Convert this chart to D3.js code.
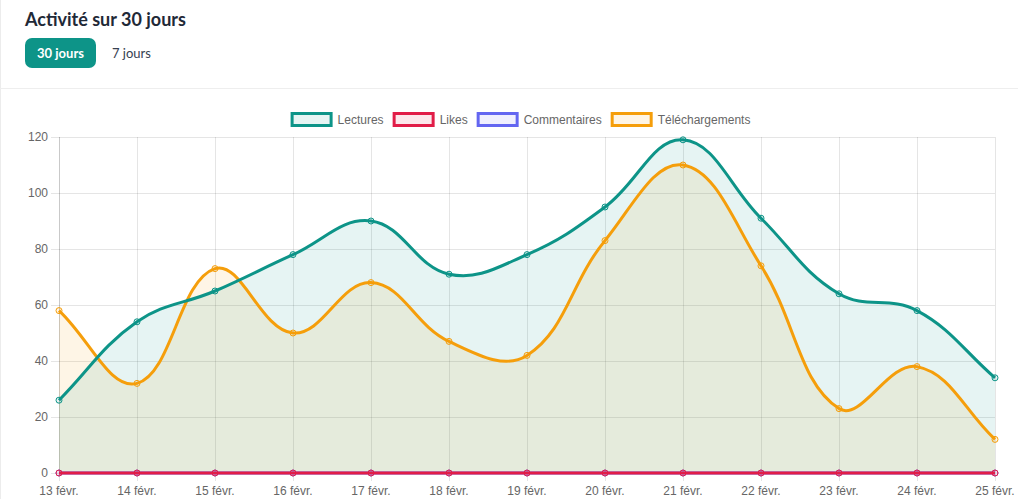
<!DOCTYPE html>
<html><head><meta charset="utf-8">
<script src="https://cdn.jsdelivr.net/npm/d3@7"></script>
<style>
html,body{margin:0;padding:0;background:#fff;}
svg{display:block;}
</style></head>
<body>
<svg id="chart" width="1018" height="499"></svg>
<script>
const categories = ["13 févr.","14 févr.","15 févr.","16 févr.","17 févr.","18 févr.","19 févr.","20 févr.","21 févr.","22 févr.","23 févr.","24 févr.","25 févr."];
const lectures = [26,54,65,78,90,71,78,95,119,91,64,58,34];
const likes = [0,0,0,0,0,0,0,0,0,0,0,0,0];
const commentaires = [0,0,0,0,0,0,0,0,0,0,0,0,0];
const telechargements = [58,32,73,50,68,47,42,83,110,74,23,38,12];
const yTicks = [0,20,40,60,80,100,120];
const seriesNames = ["Lectures","Likes","Commentaires","Téléchargements"];
const title = "Activité sur 30 jours";
const tabs = ["30 jours","7 jours"];

const colors = ["#0d9488","#e11d48","#6366f1","#f59e0b"];
const fills = ["rgba(13,148,136,0.1)","rgba(225,29,72,0.1)","rgba(99,102,241,0.1)","rgba(245,158,11,0.1)"];
const seriesData = [lectures, likes, commentaires, telechargements];

const svg = d3.select("#chart");
const W = 1018, H = 499;
const pLeft = 59, pRight = 995, pTop = 137, pBottom = 473;

// card decoration
svg.append("rect").attr("x",0.5).attr("y",-2).attr("width",W+2).attr("height",H+4)
  .attr("fill","#fff").attr("stroke","#ececec");
svg.append("line").attr("x1",0).attr("x2",W).attr("y1",88.5).attr("y2",88.5).attr("stroke","#eeeeee");

// header
svg.append("text").attr("x",25).attr("y",26).text(title)
  .attr("font-family","Lato, 'Open Sans', sans-serif").attr("font-weight",700)
  .attr("font-size",18).attr("fill","#1f2937");
svg.append("rect").attr("x",25).attr("y",38).attr("width",71).attr("height",30).attr("rx",7)
  .attr("fill","#0d9488");
svg.append("text").attr("x",60.5).attr("y",57.5).attr("text-anchor","middle").text(tabs[0])
  .attr("font-family","Lato, 'Open Sans', sans-serif").attr("font-weight",700)
  .attr("font-size",13).attr("fill","#fff");
svg.append("text").attr("x",112).attr("y",57.5).text(tabs[1])
  .attr("font-family","Lato, 'Open Sans', sans-serif").attr("font-weight",400)
  .attr("font-size",13).attr("fill","#374151");

const x = d3.scalePoint().domain(categories).range([pLeft, pRight]);
const y = d3.scaleLinear().domain([0,120]).range([pBottom, pTop]);

const font = "'Liberation Sans', Arial, Helvetica, sans-serif";
const grid = "rgba(0,0,0,0.1)";

// grid
const g = svg.append("g");
yTicks.forEach(t => {
  g.append("line").attr("x1",pLeft-8).attr("x2",pRight).attr("y1",y(t)+0.5).attr("y2",y(t)+0.5)
    .attr("stroke",grid);
  g.append("text").attr("x",pLeft-11).attr("y",y(t)+4).attr("text-anchor","end").text(t)
    .attr("font-family",font).attr("font-size",12).attr("fill","#666");
});
categories.forEach(c => {
  g.append("line").attr("x1",x(c)+0.5).attr("x2",x(c)+0.5).attr("y1",pTop).attr("y2",pBottom+8)
    .attr("stroke",grid);
  g.append("text").attr("x",x(c)).attr("y",pBottom+22).attr("text-anchor","middle").text(c)
    .attr("font-family",font).attr("font-size",12).attr("fill","#666");
});
g.append("line").attr("x1",pLeft+0.5).attr("x2",pLeft+0.5).attr("y1",pTop).attr("y2",pBottom)
  .attr("stroke","rgba(0,0,0,0.12)");

// Chart.js-like spline (tension 0.4) with cap to chart area
function splinePts(vals){
  const pts = vals.map((v,i)=>({x:x(categories[i]), y:y(v)}));
  const t = 0.4;
  pts.forEach((p,i)=>{
    const prev = pts[i-1] || p, next = pts[i+1] || p;
    const d01 = Math.hypot(p.x-prev.x, p.y-prev.y);
    const d12 = Math.hypot(next.x-p.x, next.y-p.y);
    let s01 = d01/(d01+d12), s12 = d12/(d01+d12);
    if (isNaN(s01)) s01 = 0; if (isNaN(s12)) s12 = 0;
    const fa = t*s01, fb = t*s12;
    p.cp1x = p.x - fa*(next.x-prev.x); p.cp1y = p.y - fa*(next.y-prev.y);
    p.cp2x = p.x + fb*(next.x-prev.x); p.cp2y = p.y + fb*(next.y-prev.y);
    const cx = v => Math.max(pLeft, Math.min(pRight, v));
    const cy = v => Math.max(pTop, Math.min(pBottom, v));
    p.cp1x = cx(p.cp1x); p.cp2x = cx(p.cp2x); p.cp1y = cy(p.cp1y); p.cp2y = cy(p.cp2y);
  });
  return pts;
}
function linePath(pts){
  let d = `M${pts[0].x},${pts[0].y}`;
  for (let i=1;i<pts.length;i++){
    const a = pts[i-1], b = pts[i];
    d += `C${a.cp2x},${a.cp2y},${b.cp1x},${b.cp1y},${b.x},${b.y}`;
  }
  return d;
}

const plot = svg.append("g");
for (let k = seriesData.length-1; k >= 0; k--){
  const pts = splinePts(seriesData[k]);
  const d = linePath(pts) + `L${pts[pts.length-1].x},${y(0)}L${pts[0].x},${y(0)}Z`;
  plot.append("path").attr("d",d).attr("fill",fills[k]).attr("stroke","none");
}
for (let k = seriesData.length-1; k >= 0; k--){
  const pts = splinePts(seriesData[k]);
  plot.append("path").attr("d",linePath(pts)).attr("fill","none").attr("stroke",colors[k])
    .attr("stroke-width",3).attr("stroke-linejoin","round");
  pts.forEach(p=>{
    plot.append("circle").attr("cx",p.x).attr("cy",p.y).attr("r",3)
      .attr("fill",fills[k]).attr("stroke",colors[k]).attr("stroke-width",1);
  });
}

// legend
const leg = svg.append("g");
const items = [];
let totalW = 0;
seriesNames.forEach((n,i)=>{
  const tx = leg.append("text").text(n).attr("font-family",font).attr("font-size",12).attr("fill","#666");
  const tw = tx.node().getComputedTextLength();
  items.push({tx, tw});
  totalW += 40 + 6 + tw + (i < seriesNames.length-1 ? 10 : 0);
});
let lx = (pLeft + pRight)/2 - totalW/2 - 7;
items.forEach((it,i)=>{
  leg.append("rect").attr("x",lx+1.5).attr("y",113.5).attr("width",39).attr("height",12)
    .attr("fill",fills[i]).attr("stroke",colors[i]).attr("stroke-width",3);
  it.tx.attr("x",lx+47).attr("y",124);
  lx += 40 + 6 + it.tw + 10;
});
</script>
</body></html>
